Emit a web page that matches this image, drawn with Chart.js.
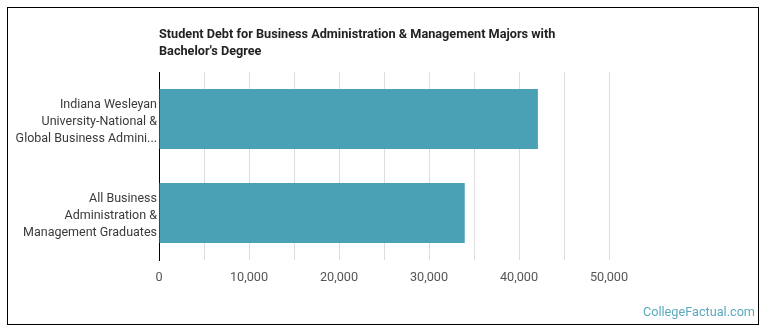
<!DOCTYPE html>
<html>
<head>
<meta charset="utf-8">
<script src="https://cdn.jsdelivr.net/npm/chart.js@4"></script>
<style>
html,body{margin:0;padding:0;background:#fff;}
#wrap{position:relative;width:770px;height:335px;}
canvas{display:block;}
</style>
</head>
<body>
<div id="wrap"><canvas id="c" width="770" height="335"></canvas></div>
<script>
const categories = [
  ["Indiana Wesleyan", "University-National &", "Global Business Admini..."],
  ["All Business", "Administration &", "Management Graduates"]
];
const debtValues = [42100, 33970];
const titleLines = ["Student Debt for Business Administration & Management Majors with", "Bachelor's Degree"];
const watermark = "CollegeFactual.com";
const xTickMin = 0, xTickMax = 50000, xLabelStep = 10000, xGridStep = 5000;

const FONT = "Roboto, 'Liberation Sans', Arial, sans-serif";

const decor = {
  id: 'decor',
  beforeDraw(chart) {
    const ctx = chart.ctx;
    ctx.save();
    ctx.fillStyle = '#fff';
    ctx.fillRect(0, 0, chart.width, chart.height);
    ctx.restore();
  },
  afterDraw(chart) {
    const ctx = chart.ctx;
    const a = chart.chartArea;
    ctx.save();
    ctx.strokeStyle = '#000';
    ctx.lineWidth = 1;
    ctx.strokeRect(7.5, 7.5, 751, 317);
    ctx.fillStyle = '#222';
    ctx.font = "bold 12.7px " + FONT;
    ctx.textAlign = 'left';
    ctx.textBaseline = 'alphabetic';
    titleLines.forEach((t, i) => ctx.fillText(t, a.left, 38 + i * 17));
    ctx.fillStyle = '#5aaabf';
    ctx.font = "12.7px " + FONT;
    ctx.textAlign = 'right';
    ctx.textBaseline = 'middle';
    ctx.fillText(watermark, 755, 313);
    ctx.restore();
  }
};

new Chart(document.getElementById('c'), {
  type: 'bar',
  data: {
    labels: categories,
    datasets: [{
      data: debtValues,
      backgroundColor: '#4aa0b5',
      borderWidth: 0,
      barPercentage: 0.64,
      categoryPercentage: 1
    }]
  },
  plugins: [decor],
  options: {
    indexAxis: 'y',
    responsive: false,
    animation: false,
    layout: { padding: { left: 0, right: 161, top: 72, bottom: 45 } },
    plugins: { legend: { display: false }, tooltip: { enabled: false }, title: { display: false } },
    scales: {
      x: {
        min: xTickMin, max: xTickMax,
        afterFit(s) { s.height = 30; },
        ticks: {
          stepSize: xGridStep,
          autoSkip: false,
          maxRotation: 0,
          color: '#555',
          padding: 10,
          font: { family: FONT, size: 12.7 },
          callback: v => (v % xLabelStep === 0 ? v.toLocaleString('en-US') : '')
        },
        grid: { color: '#dddddd', drawTicks: false, lineWidth: 1 },
        border: { display: false }
      },
      y: {
        afterFit(s) { s.width = 159; },
        ticks: {
          color: '#3a3a3a',
          padding: 2,
          labelOffset: 3,
          font: { family: FONT, size: 12.5, lineHeight: 1.385 }
        },
        grid: { display: false, drawTicks: false },
        border: { display: true, color: '#000', width: 1 }
      }
    }
  }
});
</script>
</body>
</html>
